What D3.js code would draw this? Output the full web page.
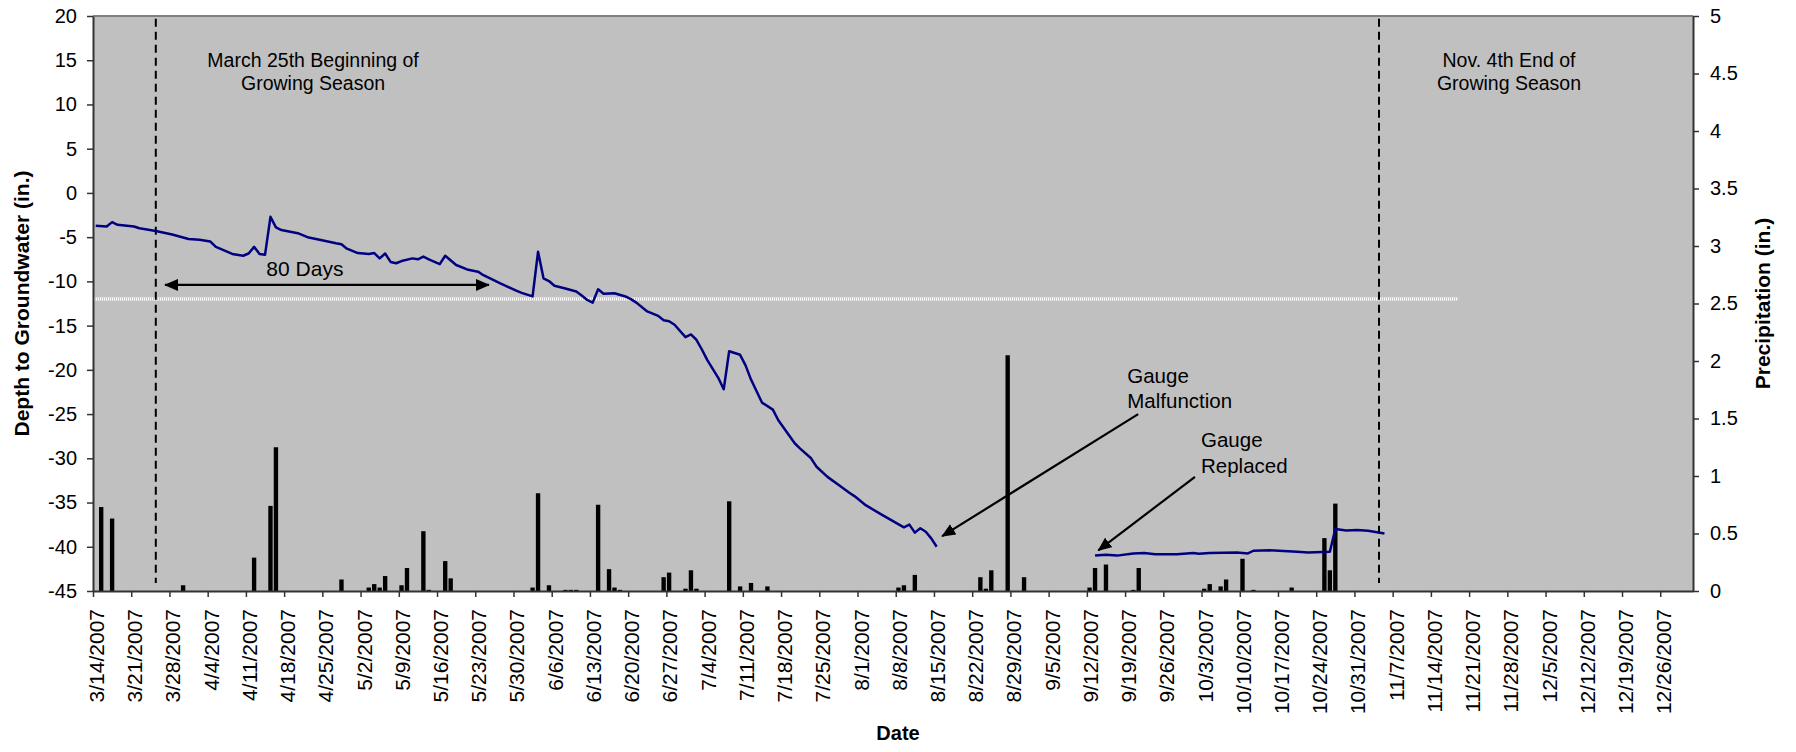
<!DOCTYPE html>
<html>
<head>
<meta charset="utf-8">
<script src="https://cdn.jsdelivr.net/npm/d3@7"></script>
<style>
body { margin: 0; background: #fff; }
svg text { font-family: Arial, "Liberation Sans", sans-serif; fill: #000; }
</style>
</head>
<body>
<svg id="chart"></svg>
<script>
'use strict';

// ================================= data ======================================
// depth to groundwater (in.), first gauge (stops 8/15)
var gwDates1 = ["3/14","3/16","3/17","3/18","3/21","3/22","3/25","3/28","3/31","4/2",
    "4/4","4/5","4/8","4/10","4/11","4/12","4/13","4/14","4/15","4/16",
    "4/17","4/20","4/22","4/24","4/27","4/28","4/29","5/1","5/3","5/4",
    "5/5","5/6","5/7","5/8","5/9","5/11","5/12","5/13","5/14","5/16",
    "5/17","5/19","5/21","5/23","5/24","5/27","5/30","5/31","6/2","6/3",
    "6/4","6/5","6/6","6/8","6/10","6/11","6/12","6/13","6/14","6/15",
    "6/17","6/19","6/20","6/21","6/23","6/25","6/26","6/27","6/28","6/30",
    "7/1","7/2","7/3","7/4","7/6","7/7","7/8","7/10","7/11","7/12",
    "7/14","7/16","7/17","7/20","7/21","7/23","7/24","7/26","7/28","7/30",
    "7/31","8/2","8/5","8/9","8/10","8/11","8/12","8/13","8/14","8/15"]
var gwDepth1 = [-3.7,-3.8,-3.3,-3.6,-3.8,-4.0,-4.3,-4.7,-5.2,-5.3,
    -5.5,-6.1,-6.9,-7.1,-6.85,-6.1,-6.9,-7.0,-2.7,-3.9,
    -4.2,-4.55,-5.05,-5.3,-5.7,-5.8,-6.3,-6.8,-6.9,-6.8,
    -7.4,-6.85,-7.8,-7.95,-7.7,-7.4,-7.5,-7.2,-7.5,-8.05,
    -7.1,-8.15,-8.65,-8.9,-9.3,-10.2,-11.05,-11.3,-11.7,-6.65,
    -9.65,-9.96,-10.5,-10.8,-11.15,-11.6,-12.1,-12.4,-10.9,-11.4,
    -11.35,-11.7,-12.0,-12.4,-13.4,-13.9,-14.4,-14.5,-14.9,-16.3,
    -16.0,-16.6,-17.7,-18.9,-20.9,-22.2,-17.9,-18.3,-19.5,-21.1,
    -23.7,-24.5,-25.7,-28.3,-28.9,-30.0,-30.95,-32.1,-33.0,-33.9,
    -34.3,-35.3,-36.4,-37.8,-37.5,-38.4,-37.9,-38.3,-39.05,-40.0]

// replacement gauge (from 9/13)
var gwDates2 = ["9/13","9/15","9/17","9/20","9/22","9/24","9/28","10/1","10/2","10/4",
    "10/9","10/11","10/12","10/15","10/20","10/22","10/26","10/27","10/29","10/31",
    "11/2","11/5"]
var gwDepth2 = [-41.0,-40.9,-41.0,-40.75,-40.7,-40.85,-40.85,-40.7,-40.8,-40.7,
    -40.65,-40.75,-40.45,-40.4,-40.55,-40.65,-40.55,-38.0,-38.15,-38.1,
    -38.2,-38.5]

// daily precipitation (in.)
var rainDates = ["3/15","3/17","3/30","4/12","4/15","4/16","4/28","5/3","5/4","5/5",
    "5/6","5/9","5/10","5/13","5/14","5/17","5/18","6/2","6/3","6/5",
    "6/8","6/9","6/10","6/14","6/16","6/17","6/18","6/26","6/27","6/30",
    "7/1","7/2","7/8","7/10","7/12","7/15","8/8","8/9","8/11","8/23",
    "8/24","8/25","8/28","8/31","9/12","9/13","9/15","9/20","9/21","10/3",
    "10/4","10/6","10/7","10/10","10/12","10/19","10/25","10/26","10/27"]
var rainInches = [0.73,0.63,0.05,0.29,0.74,1.25,0.10,0.03,0.06,0.03,
    0.13,0.05,0.20,0.52,0.01,0.26,0.11,0.03,0.85,0.05,
    0.01,0.01,0.01,0.75,0.19,0.03,0.01,0.12,0.16,0.02,
    0.18,0.02,0.78,0.04,0.07,0.04,0.03,0.05,0.14,0.12,
    0.02,0.18,2.05,0.12,0.03,0.20,0.23,0.01,0.20,0.02,
    0.06,0.04,0.10,0.28,0.01,0.03,0.46,0.18,0.76]

var depthTicks = [-45,-40,-35,-30,-25,-20,-15,-10,-5,0,5,10,15,20]
var rainTicks = [0,0.5,1,1.5,2,2.5,3,3.5,4,4.5,5]

var seasonStart = "3/25"
var seasonEnd = "11/4"
var thresholdDepth = -12
var thresholdEnd = "11/19"

// ================================= utils ======================================
var parseDate = d3.utcParse("%m/%d/%Y")
function day(s) { return parseDate(s + "/2007") }

var width = 1796
var height = 752
var plot = { left: 93, right: 1693, top: 16, bottom: 591 }

var startDate = day("3/14")
var endDate = parseDate("1/1/2008")

var x = d3.scaleUtc().domain([startDate, endDate]).range([plot.left, plot.right])
var yL = d3.scaleLinear().domain([-45, 20]).range([plot.bottom, plot.top])
var yR = d3.scaleLinear().domain([0, 5]).range([plot.bottom, plot.top])

// excel puts each point in the middle of its day
function xMid(d) { return x(d3.utcHour.offset(d, 12)) }
// annotations are placed by day offset from 3/14
function xAt(dd) { return x(new Date(+startDate + dd * 864e5)) }

var svg = d3.select("#chart")
    .attr("width", width)
    .attr("height", height)

var defs = svg.append("defs")
defs.append("marker")
    .attr("id", "head")
    .attr("viewBox", "0 0 14 12")
    .attr("refX", 13)
    .attr("refY", 6)
    .attr("markerUnits", "userSpaceOnUse")
    .attr("markerWidth", 14)
    .attr("markerHeight", 12)
    .attr("orient", "auto-start-reverse")
    .append("path")
    .attr("d", "M0,0L14,6L0,12Z")
    .attr("fill", "#000")

// ================================= plot area ======================================
svg.append("rect")
    .attr("x", plot.left)
    .attr("y", plot.top)
    .attr("width", plot.right - plot.left)
    .attr("height", plot.bottom - plot.top)
    .attr("fill", "#c0c0c0")

svg.append("line")
    .attr("x1", plot.left).attr("x2", plot.right)
    .attr("y1", plot.top).attr("y2", plot.top)
    .attr("stroke", "#808080")
    .attr("stroke-width", 2)

// 12 in. threshold
var thrY = yL(thresholdDepth)
svg.append("line")
    .attr("x1", plot.left).attr("x2", x(day(thresholdEnd)))
    .attr("y1", thrY).attr("y2", thrY)
    .attr("stroke", "#fff")
    .attr("stroke-width", 3)
svg.append("line")
    .attr("x1", plot.left).attr("x2", x(day(thresholdEnd)))
    .attr("y1", thrY).attr("y2", thrY)
    .attr("stroke", "#f5a0f5")
    .attr("stroke-width", 3)
    .attr("stroke-dasharray", "1,1")

// precipitation bars
var barW = (x(day("3/15")) - x(day("3/14"))) * 0.8
var rain = rainDates.map((d, i) => ({ date: day(d), v: rainInches[i] }))
svg.append("g")
    .selectAll("rect")
    .data(rain)
    .join("rect")
    .attr("x", d => xMid(d.date) - barW / 2)
    .attr("y", d => yR(d.v))
    .attr("width", barW)
    .attr("height", d => yR(0) - yR(d.v))
    .attr("fill", "#000")

// growing season lines
svg.append("g")
    .selectAll("line")
    .data([seasonStart, seasonEnd])
    .join("line")
    .attr("x1", d => xMid(day(d)))
    .attr("x2", d => xMid(day(d)))
    .attr("y1", yL(19.7))
    .attr("y2", yL(-44.1))
    .attr("stroke", "#000")
    .attr("stroke-width", 2)
    .attr("stroke-dasharray", "8,5")

// groundwater lines
var line = d3.line().x(d => xMid(d.date)).y(d => yL(d.v))
var seg1 = gwDates1.map((d, i) => ({ date: day(d), v: gwDepth1[i] }))
var seg2 = gwDates2.map((d, i) => ({ date: day(d), v: gwDepth2[i] }))
svg.append("g")
    .selectAll("path")
    .data([seg1, seg2])
    .join("path")
    .attr("d", line)
    .attr("fill", "none")
    .attr("stroke", "#000080")
    .attr("stroke-width", 2.5)
    .attr("stroke-linejoin", "round")

// ================================= axes ======================================
var xTicks = d3.utcDay.range(startDate, day("12/27"), 7)
var fmt = d3.utcFormat("%-m/%-d/%Y")

var gx = svg.append("g")
    .attr("transform", `translate(0,${plot.bottom})`)
    .call(d3.axisBottom(x).tickValues(xTicks).tickFormat(fmt).tickSize(6).tickSizeOuter(0))
gx.selectAll("text")
    .attr("transform", "rotate(-90)")
    .attr("x", -18)
    .attr("y", 0)
    .attr("dy", "0.5em")
    .style("text-anchor", "end")
    .style("font-size", "21px")

var gl = svg.append("g")
    .attr("transform", `translate(${plot.left},0)`)
    .call(d3.axisLeft(yL).tickValues(depthTicks).tickFormat(d => d).tickSize(6).tickPadding(10).tickSizeOuter(0))
gl.selectAll("text").style("font-size", "20px")

var gr = svg.append("g")
    .attr("transform", `translate(${plot.right},0)`)
    .call(d3.axisRight(yR).tickValues(rainTicks).tickFormat(d => d).tickSize(6).tickPadding(11).tickSizeOuter(0))
gr.selectAll("text").style("font-size", "20px")

svg.selectAll(".domain").attr("stroke", "#333").attr("stroke-width", 2)
svg.selectAll(".tick line").attr("stroke", "#333").attr("stroke-width", 1.5)
svg.selectAll(".tick text").style("font-family", "Arial, 'Liberation Sans', sans-serif")

svg.append("text")
    .attr("transform", `translate(29,${(plot.top + plot.bottom) / 2}) rotate(-90)`)
    .attr("text-anchor", "middle")
    .style("font-size", "21px")
    .style("font-weight", "bold")
    .text("Depth to Groundwater (in.)")

svg.append("text")
    .attr("transform", `translate(1770,${(plot.top + plot.bottom) / 2}) rotate(-90)`)
    .attr("text-anchor", "middle")
    .style("font-size", "21px")
    .style("font-weight", "bold")
    .text("Precipitation (in.)")

svg.append("text")
    .attr("x", (plot.left + plot.right) / 2 + 5)
    .attr("y", 740)
    .attr("text-anchor", "middle")
    .style("font-size", "20px")
    .style("font-weight", "bold")
    .text("Date")

// ================================= annotations ======================================
var notes = [
    { lines: ["March 25th Beginning of", "Growing Season"], d: 40.3, v: 14.2, anchor: "middle", size: 19.5, gap: 23 },
    { lines: ["Nov. 4th End of", "Growing Season"], d: 259.3, v: 14.2, anchor: "middle", size: 19.5, gap: 23 },
    { lines: ["80 Days"], d: 38.8, v: -9.4, anchor: "middle", size: 21, gap: 0 },
    { lines: ["Gauge", "Malfunction"], d: 189.4, v: -21.5, anchor: "start", size: 20.5, gap: 25 },
    { lines: ["Gauge", "Replaced"], d: 202.9, v: -28.7, anchor: "start", size: 20.5, gap: 26 }
]

notes.forEach(n => {
    let t = svg.append("text")
        .attr("text-anchor", n.anchor)
        .style("font-size", n.size + "px")
    n.lines.forEach((s, i) => {
        t.append("tspan")
            .attr("x", xAt(n.d))
            .attr("y", yL(n.v) + i * n.gap)
            .text(s)
    })
})

var arrows = [
    { from: [13.2, -10.4], to: [72.5, -10.4], both: true },
    { from: [191.4, -25.0], to: [155.5, -38.8], both: false },
    { from: [201.8, -32.1], to: [184.1, -40.4], both: false }
]

svg.append("g")
    .selectAll("line")
    .data(arrows)
    .join("line")
    .attr("x1", d => xAt(d.from[0]))
    .attr("y1", d => yL(d.from[1]))
    .attr("x2", d => xAt(d.to[0]))
    .attr("y2", d => yL(d.to[1]))
    .attr("stroke", "#000")
    .attr("stroke-width", 2.2)
    .attr("marker-end", "url(#head)")
    .attr("marker-start", d => d.both ? "url(#head)" : null)
</script>
</body>
</html>
